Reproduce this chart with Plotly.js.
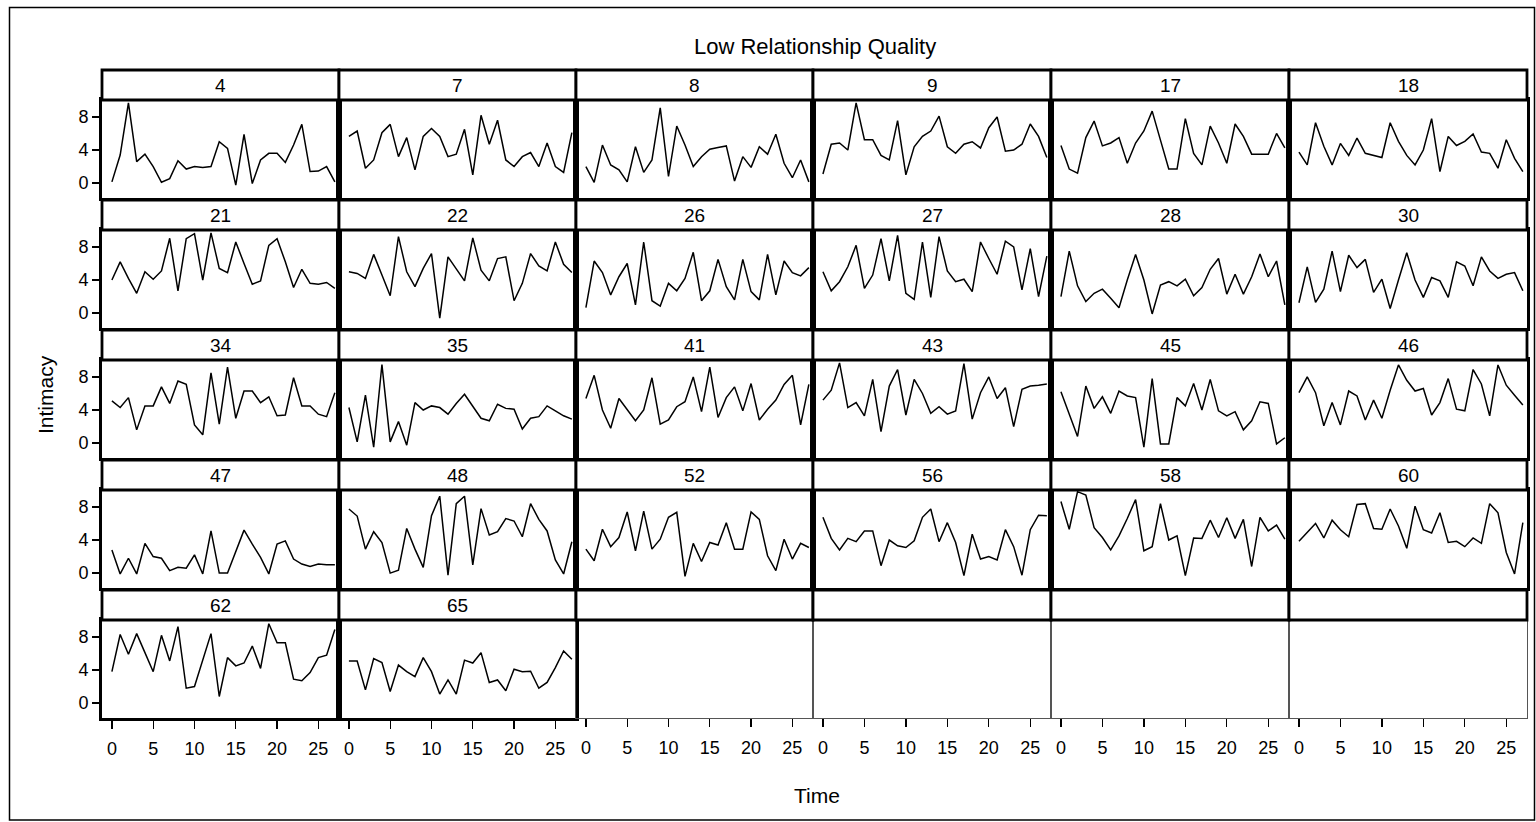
<!DOCTYPE html>
<html>
<head>
<meta charset="utf-8">
<script src="https://cdn.plot.ly/plotly-3.0.1.min.js"></script>
<style>html,body{margin:0;padding:0;background:#fff;}#chart{width:1536px;height:822px;}</style>
</head>
<body>
<div id="chart"></div>
<script>
// ---- data ----
const subjectIds = ["4","7","8","9","17","18","21","22","26","27","28","30","34","35","41","43","45","46","47","48","52","56","58","60","62","65"];
const timePoints = [0,1,2,3,4,5,6,7,8,9,10,11,12,13,14,15,16,17,18,19,20,21,22,23,24,25,26,27];
const xTickVals = [0,5,10,15,20,25];
const yTickVals = [0,4,8];

const s4  = [0.15,3.4,9.7,2.6,3.5,2.0,0.1,0.55,2.7,1.7,2.0,1.9,2.0,5.0,4.2,-0.25,5.9,-0.05,2.8,3.6,3.6,2.5,4.6,7.1,1.4,1.45,2.0,0.16];
const s7  = [5.65,6.3,1.8,2.8,6.1,7.1,3.2,5.5,1.6,5.65,6.6,5.65,3.2,3.5,6.5,1.0,8.2,4.7,7.6,2.8,2.0,3.2,3.7,2.0,4.85,2.0,1.3,6.1];
const s8  = [2.0,0.1,4.6,2.2,1.6,0.15,4.4,1.3,2.8,9.1,0.8,6.9,4.6,2.0,3.2,4.1,4.3,4.5,0.25,3.2,1.9,4.4,3.5,5.9,2.4,0.65,2.8,0.15];
const s9  = [1.1,4.7,4.85,4.0,9.7,5.25,5.25,3.35,2.8,7.55,1.0,4.4,5.65,6.3,8.1,4.4,3.6,4.7,5.0,4.25,6.7,8.0,3.85,4.0,4.7,7.15,5.65,3.1];
const s17 = [4.55,1.7,1.2,5.5,7.5,4.5,4.85,5.5,2.4,4.85,6.3,8.7,5.2,1.7,1.7,7.8,3.6,2.2,6.9,4.85,2.4,7.15,5.65,3.5,3.5,3.5,6.0,4.25];
const s18 = [3.75,2.2,7.3,4.45,2.2,4.8,3.35,5.45,3.6,3.35,3.1,7.3,5.05,3.35,2.2,4.0,7.8,1.4,5.65,4.55,5.05,5.95,3.75,3.6,1.8,5.25,3.0,1.4];
const s21 = [4.0,6.2,4.2,2.4,5.0,4.1,5.1,9.05,2.7,9.0,9.6,4.0,9.7,5.4,4.9,8.6,6.0,3.5,3.9,8.2,9.0,6.2,3.1,5.3,3.6,3.5,3.7,3.0];
const s22 = [5.0,4.8,4.2,7.1,4.6,2.1,9.25,5.0,3.2,5.4,7.2,-0.6,6.8,5.4,3.9,9.1,5.2,3.9,6.6,6.8,1.5,3.6,7.2,5.7,5.1,8.6,5.9,4.9];
const s26 = [0.65,6.3,4.9,2.2,4.4,6.0,1.0,8.6,1.5,0.85,3.6,2.7,4.2,7.35,1.5,2.7,6.5,3.2,1.6,6.5,2.6,1.6,7.1,2.2,6.3,4.9,4.5,5.5];
const s27 = [5.0,2.7,3.8,5.6,8.2,3.0,4.6,9.0,3.9,9.4,2.4,1.65,8.6,1.9,9.25,5.1,3.8,4.1,2.6,8.6,6.6,4.7,8.7,8.0,2.8,7.8,2.0,6.9];
const s28 = [2.0,7.5,3.3,1.4,2.4,2.9,1.8,0.65,4.0,7.1,4.0,-0.1,3.4,3.8,3.3,4.1,2.1,3.1,5.3,6.6,2.3,4.7,2.3,4.4,7.15,4.4,6.3,1.0];
const s30 = [1.25,5.6,1.3,2.9,7.5,2.6,7.0,5.5,6.5,2.5,4.1,0.55,4.0,7.3,4.0,1.9,4.3,3.9,1.9,6.2,5.7,3.3,6.8,5.1,4.2,4.7,4.9,2.7];
const s34 = [5.1,4.3,5.5,1.6,4.5,4.5,6.8,4.8,7.5,7.1,2.2,1.0,8.5,2.3,9.2,3.0,6.3,6.3,4.9,5.6,3.3,3.4,7.9,4.5,4.5,3.5,3.2,6.1];
const s35 = [4.3,0.15,5.8,-0.5,9.5,0.15,2.6,-0.25,4.9,4.0,4.5,4.3,3.5,4.8,5.9,4.5,3.0,2.7,4.7,4.2,4.1,1.7,3.0,3.2,4.5,3.9,3.3,2.9];
const s41 = [5.4,8.2,4.0,1.8,5.4,4.1,2.7,4.0,7.9,2.3,2.8,4.4,5.0,8.0,3.8,9.2,3.1,5.5,6.8,3.9,7.2,2.8,4.1,5.2,7.1,8.2,2.2,7.1];
const s43 = [5.2,6.4,9.7,4.3,4.9,3.3,7.7,1.4,6.9,8.9,3.4,7.7,6.0,3.6,4.4,3.5,3.9,9.6,2.9,6.1,8.0,5.4,6.7,2.0,6.5,6.9,7.0,7.15];
const s45 = [6.2,3.5,0.8,6.9,4.2,5.6,3.6,6.3,5.7,5.5,-0.5,7.8,-0.1,-0.1,5.5,4.5,7.2,4.0,7.7,3.9,3.3,3.8,1.6,2.7,5.0,4.8,-0.1,0.65];
const s46 = [6.1,8.0,6.1,2.1,4.9,2.2,6.3,5.7,2.8,5.2,3.0,6.4,9.45,7.6,6.3,6.6,3.4,4.9,7.8,4.1,3.9,8.9,7.15,3.3,9.45,7.0,5.8,4.6];
const s47 = [2.8,-0.1,1.8,-0.1,3.6,2.0,1.8,0.3,0.7,0.6,2.2,-0.1,5.1,0.0,0.0,2.5,5.2,3.5,1.9,-0.1,3.5,3.9,1.7,1.1,0.8,1.1,1.0,1.0];
const s48 = [7.75,6.9,2.9,5.0,3.7,0.0,0.35,5.4,2.9,0.7,6.95,9.3,-0.25,8.4,9.3,1.0,7.8,4.6,5.0,6.6,6.3,4.4,8.4,6.5,5.1,1.6,-0.1,3.8];
const s52 = [2.9,1.5,5.3,3.2,4.3,7.4,2.7,7.5,2.9,4.1,6.75,7.35,-0.4,3.6,1.4,3.7,3.4,6.1,2.9,2.9,7.4,6.5,2.1,0.3,4.1,1.7,3.6,3.1];
const s56 = [6.75,4.2,2.8,4.2,3.8,5.1,5.1,0.9,4.0,3.3,3.1,3.9,6.75,7.75,3.8,6.1,3.7,-0.3,4.7,1.7,2.0,1.6,5.25,3.2,-0.25,5.25,7.0,6.95];
const s58 = [8.65,5.3,9.85,9.45,5.5,4.3,2.8,4.5,6.6,8.9,2.7,3.2,8.4,4.0,4.5,-0.3,4.25,4.2,6.4,4.3,6.7,4.2,6.5,0.8,6.75,5.1,5.8,4.1];
const s60 = [3.85,4.9,6.0,4.25,6.4,5.25,4.4,8.3,8.4,5.4,5.3,7.75,5.7,3.0,8.1,5.25,4.85,7.3,3.7,3.85,3.2,4.25,3.6,8.4,7.3,2.5,-0.1,6.1];
const s62 = [3.8,8.3,5.9,8.4,6.1,3.8,8.2,5.1,9.25,1.8,2.0,5.2,8.4,0.8,5.5,4.5,4.85,6.9,4.2,9.6,7.3,7.3,2.9,2.7,3.7,5.5,5.8,8.9];
const s65 = [5.1,5.1,1.6,5.4,4.9,1.4,4.6,3.8,3.2,5.5,3.8,1.1,2.8,1.1,5.2,4.85,6.1,2.5,2.8,1.5,4.1,3.8,3.85,1.8,2.5,4.3,6.3,5.3];

const seriesList = [s4,s7,s8,s9,s17,s18,s21,s22,s26,s27,s28,s30,s34,s35,s41,s43,s45,s46,s47,s48,s52,s56,s58,s60,s62,s65];

// ---- layout ----
const W = 1536, H = 822;
const colEdges = [102,339,576,813,1051,1289,1527];
const nCols = 6, nRows = 5;
const FONT = "Liberation Sans, Arial, Helvetica, sans-serif";
const px = v => v / W;
const py = v => 1 - v / H;

const traces = [];
const layout = {
  width: W, height: H,
  margin: {l:0, r:0, t:0, b:0},
  paper_bgcolor: "#fff", plot_bgcolor: "#fff",
  showlegend: false,
  font: {family: FONT, color: "#000"},
  shapes: [], annotations: []
};

for (let k = 0; k < nCols * nRows; k++) {
  const r = Math.floor(k / nCols), c = k % nCols;
  const sfx = k === 0 ? "" : String(k + 1);
  const has = k < seriesList.length;
  const plotTop = 100 + 130 * r, plotBot = 198 + 130 * r;
  const stripTop = 70 + 130 * r, stripBot = 100 + 130 * r;

  traces.push({
    type: "scatter", mode: "lines",
    x: has ? timePoints : [], y: has ? seriesList[k] : [],
    xaxis: "x" + sfx, yaxis: "y" + sfx,
    line: {color: "#000", width: 1.5},
    hoverinfo: "skip"
  });

  layout["xaxis" + sfx] = {
    domain: [px(colEdges[c]), px(colEdges[c + 1])],
    anchor: "y" + sfx,
    range: [-1.2, 27.5],
    showgrid: false, zeroline: false,
    showline: true, mirror: true,
    linecolor: has ? "#000" : "#555", linewidth: has ? 2.8 : 1,
    ticks: r === nRows - 1 ? "outside" : "",
    tickvals: xTickVals, ticklen: 8, tickwidth: 1.3, tickcolor: "#000",
    ticklabelstandoff: 5,
    showticklabels: r === nRows - 1,
    tickfont: {family: FONT, size: 18, color: "#000"}
  };
  layout["yaxis" + sfx] = {
    domain: [py(plotBot), py(plotTop)],
    anchor: "x" + sfx,
    range: [-1.8, 10.05],
    showgrid: false, zeroline: false,
    showline: true, mirror: true,
    linecolor: has ? "#000" : "#555", linewidth: has ? 2.8 : 1,
    ticks: c === 0 ? "outside" : "",
    tickvals: yTickVals, ticklen: 7, tickwidth: 1.3, tickcolor: "#000",
    ticklabelstandoff: 0,
    showticklabels: c === 0,
    tickfont: {family: FONT, size: 18, color: "#000"}
  };

  // strip
  layout.shapes.push({
    type: "rect", xref: "paper", yref: "paper",
    x0: px(colEdges[c]), x1: px(colEdges[c + 1]),
    y0: py(stripBot), y1: py(stripTop),
    line: {color: "#000", width: 2.8}, fillcolor: "#fff", layer: "above"
  });
  if (has) {
    layout.annotations.push({
      xref: "paper", yref: "paper",
      x: px((colEdges[c] + colEdges[c + 1]) / 2), y: py((stripTop + stripBot) / 2),
      text: subjectIds[k], showarrow: false,
      xanchor: "center", yanchor: "middle",
      font: {family: FONT, size: 19, color: "#000"}
    });
  }
}

// outer frame
layout.shapes.push({
  type: "rect", xref: "paper", yref: "paper",
  x0: px(9.5), x1: px(1534.5), y0: py(820), y1: py(7.5),
  line: {color: "#000", width: 1.5}, fillcolor: "rgba(0,0,0,0)", layer: "below"
});

layout.annotations.push({
  xref: "paper", yref: "paper", x: px(814.5), y: py(47),
  text: "Low Relationship Quality", showarrow: false,
  xanchor: "center", yanchor: "middle",
  font: {family: FONT, size: 22, color: "#000"}
});
layout.annotations.push({
  xref: "paper", yref: "paper", x: px(817), y: py(795),
  text: "Time", showarrow: false,
  xanchor: "center", yanchor: "middle",
  font: {family: FONT, size: 21, color: "#000"}
});
layout.annotations.push({
  xref: "paper", yref: "paper", x: px(45), y: py(395),
  text: "Intimacy", showarrow: false, textangle: -90,
  xanchor: "center", yanchor: "middle",
  font: {family: FONT, size: 21, color: "#000"}
});

Plotly.newPlot("chart", traces, layout, {displayModeBar: false, staticPlot: true});
</script>
</body>
</html>
